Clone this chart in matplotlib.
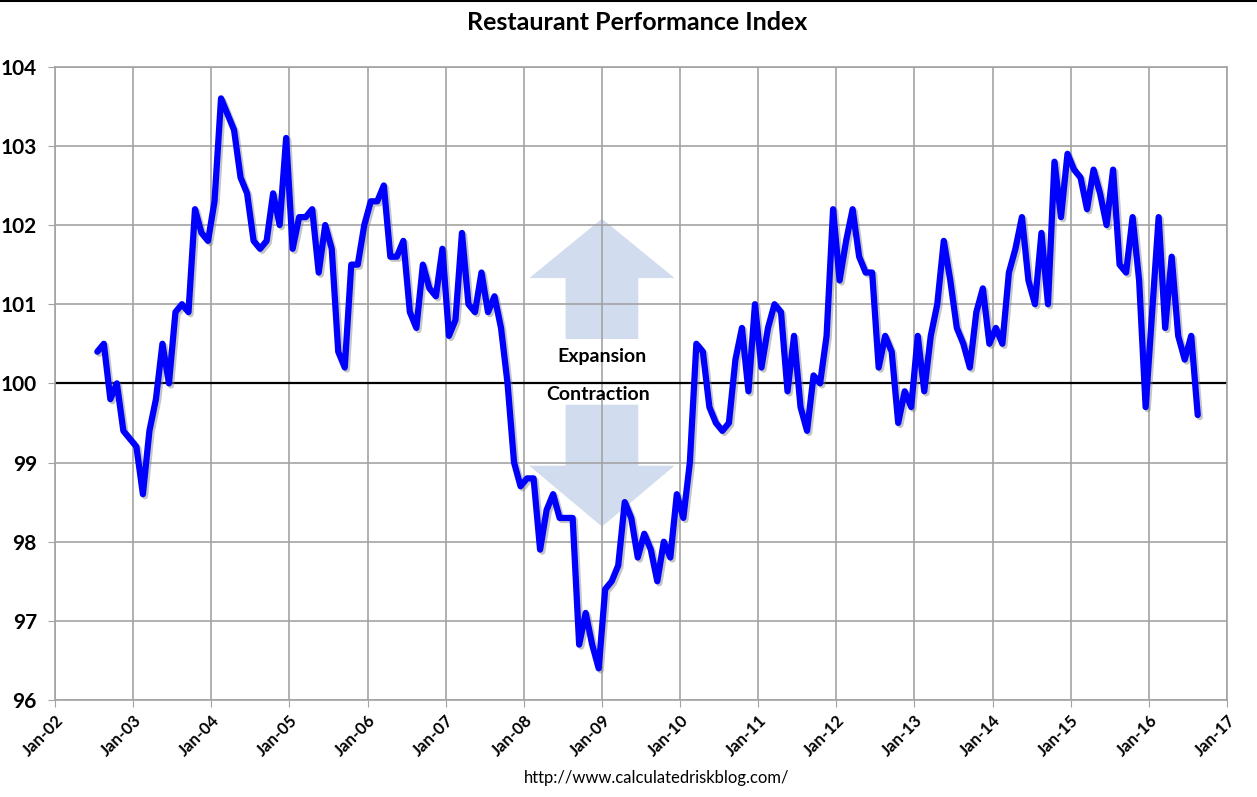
import numpy as np
import matplotlib
matplotlib.use("Agg")
import matplotlib.pyplot as plt
import matplotlib.patheffects as pe
from matplotlib.patches import Polygon
from matplotlib.lines import Line2D

plt.rcParams['font.family'] = ['Lato', 'DejaVu Sans']

# monthly index, Jul 2002 .. Aug 2016
start_year = 2002
start_month = 7
rpi = [
    100.4, 100.5, 99.8, 100.0, 99.4, 99.3, 99.2, 98.6, 99.4, 99.8, 100.5, 100.0,
    100.9, 101.0, 100.9, 102.2, 101.9, 101.8, 102.3, 103.6, 103.4, 103.2, 102.6, 102.4,
    101.8, 101.7, 101.8, 102.4, 102.0, 103.1, 101.7, 102.1, 102.1, 102.2, 101.4, 102.0,
    101.7, 100.4, 100.2, 101.5, 101.5, 102.0, 102.3, 102.3, 102.5, 101.6, 101.6, 101.8,
    100.9, 100.7, 101.5, 101.2, 101.1, 101.7, 100.6, 100.8, 101.9, 101.0, 100.9, 101.4,
    100.9, 101.1, 100.7, 100.0, 99.0, 98.7, 98.8, 98.8, 97.9, 98.4, 98.6, 98.3,
    98.3, 98.3, 96.7, 97.1, 96.7, 96.4, 97.4, 97.5, 97.7, 98.5, 98.3, 97.8,
    98.1, 97.9, 97.5, 98.0, 97.8, 98.6, 98.3, 99.0, 100.5, 100.4, 99.7, 99.5,
    99.4, 99.5, 100.3, 100.7, 99.9, 101.0, 100.2, 100.7, 101.0, 100.9, 99.9, 100.6,
    99.7, 99.4, 100.1, 100.0, 100.6, 102.2, 101.3, 101.8, 102.2, 101.6, 101.4, 101.4,
    100.2, 100.6, 100.4, 99.5, 99.9, 99.7, 100.6, 99.9, 100.6, 101.0, 101.8, 101.3,
    100.7, 100.5, 100.2, 100.9, 101.2, 100.5, 100.7, 100.5, 101.4, 101.7, 102.1, 101.3,
    101.0, 101.9, 101.0, 102.8, 102.1, 102.9, 102.7, 102.6, 102.2, 102.7, 102.4, 102.0,
    102.7, 101.5, 101.4, 102.1, 101.3, 99.7, 100.9, 102.1, 100.7, 101.6, 100.6, 100.3,
    100.6, 99.6,
]
years = list(range(2002, 2018))
year_labels = ['Jan-%02d' % (y % 100) for y in years]
y_ticks = list(range(96, 105))

x = np.array([start_year + (start_month - 1 + i + 0.5) / 12 for i in range(len(rpi))])

fig = plt.figure(figsize=(12.57, 7.97), dpi=100)
ax = fig.add_axes([0.04375, 0.1217, 0.9324, 0.7946])

grid_c = '#A3A3A3'
ax.set_xlim(2002, 2017)
ax.set_ylim(96, 104)
ax.set_xticks(years)
ax.set_xticklabels(year_labels, rotation=45, ha='right', va='top',
                   rotation_mode='anchor', fontsize=12, fontweight='bold')
ax.set_yticks(y_ticks)
ax.set_yticklabels([str(v) for v in y_ticks], fontsize=15, fontweight='bold')
ax.tick_params(axis='y', length=5, color=grid_c, pad=8)
ax.tick_params(axis='x', length=5, color=grid_c, pad=4)
ax.set_axisbelow(True)
ax.grid(True, color=grid_c, linewidth=1.2)
for s in ax.spines.values():
    s.set_color(grid_c)
    s.set_linewidth(1.2)

# expansion / contraction arrows
arrow_c = '#D1DDEE'
cx = 2009.0
hw, sw = 0.93, 0.465
up = [(cx, 102.08), (cx + hw, 101.33), (cx + sw, 101.33), (cx + sw, 100.56),
      (cx - sw, 100.56), (cx - sw, 101.33), (cx - hw, 101.33)]
down = [(cx, 98.19), (cx + hw, 98.96), (cx + sw, 98.96), (cx + sw, 99.73),
        (cx - sw, 99.73), (cx - sw, 98.96), (cx - hw, 98.96)]
ax.add_patch(Polygon(up, closed=True, facecolor=arrow_c, edgecolor='none', zorder=0.3))
ax.add_patch(Polygon(down, closed=True, facecolor=arrow_c, edgecolor='none', zorder=0.3))
ax.text(cx, 100.34, 'Expansion', ha='center', va='center', fontsize=14, fontweight='bold')
ax.text(cx - 0.05, 99.865, 'Contraction', ha='center', va='center', fontsize=14, fontweight='bold')

ax.axhline(100, color='black', linewidth=1.6, zorder=2)
ax.plot(x, rpi, color='#0000FF', linewidth=4.5, solid_joinstyle='round',
        solid_capstyle='round', zorder=3,
        path_effects=[pe.SimpleLineShadow(offset=(1.5, -1.5), shadow_color='#7F7F7F', alpha=0.45),
                      pe.Normal()])

fig.text(0.507, 1 - 22 / 797, 'Restaurant Performance Index', ha='center', va='center',
         fontsize=18, fontweight='bold')
fig.text(657 / 1257, 1 - 778 / 797, 'http://www.calculatedriskblog.com/', ha='center',
         va='center', fontsize=12)
fig.add_artist(Line2D([0, 1], [0.999, 0.999], color='black', linewidth=1.5))

fig.savefig('out.png', dpi=100)
